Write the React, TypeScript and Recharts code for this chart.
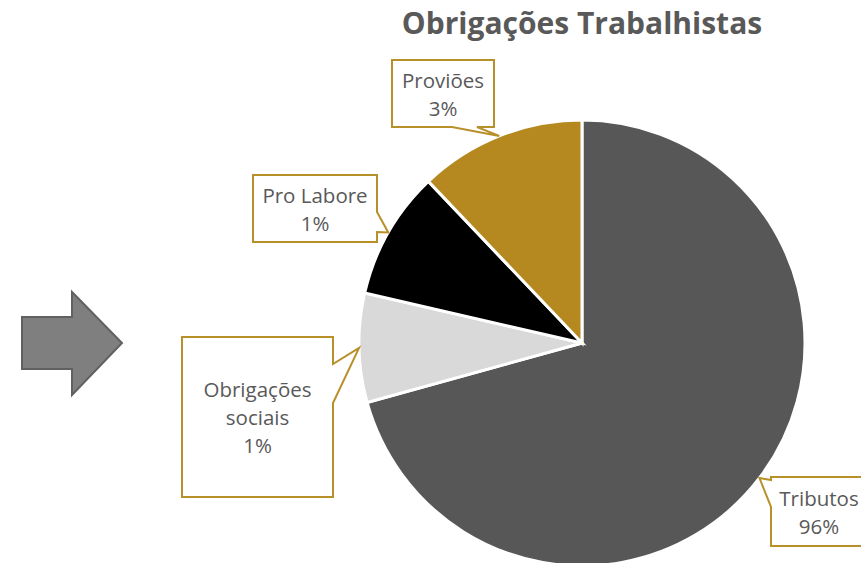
import { PieChart, Pie, Cell } from 'recharts';

// fatias (em % do círculo)
const categorias = ['Tributos', 'Obrigações sociais', 'Pro Labore', 'Proviões'];
const valores = [70.7, 7.9, 9.3, 12.1];
// textos das etiquetas, como aparecem no gráfico
const rotulos = [['Tributos', '96%'], ['Obrigações', 'sociais', '1%'], ['Pro Labore', '1%'], ['Proviões', '3%']];
const cores = ['#575757', '#d9d9d9', '#000000', '#b5891f'];

const dados = categorias.map((nome, i) => ({ nome, valor: valores[i] }));

const RAD = Math.PI / 180;
const OURO = '#b8902a';
const TEXTO = '#595959';

type Caixa = { x: number; y: number; w: number; h: number; lado: 'left' | 'right' | 'bottom'; b1: number; b2: number };

// posição das caixas de chamada
const caixas: Caixa[] = [
    { x: 771, y: 477, w: 96, h: 69, lado: 'left', b1: 480, b2: 507 },
    { x: 182, y: 337, w: 151, h: 160, lado: 'right', b1: 364, b2: 403 },
    { x: 253, y: 175, w: 124, h: 67, lado: 'right', b1: 212, b2: 232 },
    { x: 392, y: 60, w: 102, h: 67, lado: 'bottom', b1: 452, b2: 477 },
];

const renderChamada = (props: any) => {
    const { cx, cy, midAngle, outerRadius, index } = props;
    const tx = cx + outerRadius * Math.cos(-midAngle * RAD);
    const ty = cy + outerRadius * Math.sin(-midAngle * RAD);
    const c = caixas[index];
    const { x, y, w, h } = c;
    let d = '';
    if (c.lado === 'right') {
        d = `M${x},${y} H${x + w} V${c.b1} L${tx},${ty} L${x + w},${c.b2} V${y + h} H${x} Z`;
    } else if (c.lado === 'left') {
        d = `M${x},${y} H${x + w} V${y + h} H${x} V${c.b2} L${tx},${ty} L${x},${c.b1} Z`;
    } else {
        d = `M${x},${y} H${x + w} V${y + h} H${c.b2} L${tx},${ty} L${c.b1},${y + h} H${x} Z`;
    }
    const linhas = rotulos[index];
    const passo = 28;
    const meio = y + h / 2;
    const y0 = meio - ((linhas.length - 1) * passo) / 2;
    return (
        <g key={`chamada-${index}`}>
            <path d={d} fill="#fff" stroke={OURO} strokeWidth={2} />
            {linhas.map((t, j) => (
                <text
                    key={j}
                    x={x + w / 2}
                    y={y0 + j * passo}
                    textAnchor="middle"
                    dominantBaseline="central"
                    fill={TEXTO}
                    fontSize={20.5}
                    fontFamily="'Open Sans', sans-serif"
                >
                    {t}
                </text>
            ))}
        </g>
    );
};

export default function App() {
    return (
        <div style={{ position: 'absolute', left: 0, top: 0, width: 861, height: 563, background: '#fff', overflow: 'hidden' }}>
            <svg width={861} height={563} style={{ position: 'absolute', left: 0, top: 0 }}>
                <polygon
                    points="22,317 72,317 72,292 122,343 72,395 72,369 22,369"
                    fill="#7f7f7f"
                    stroke="#616161"
                    strokeWidth={2}
                />
                <text
                    x={582}
                    y={34}
                    textAnchor="middle"
                    fill={TEXTO}
                    fontSize={30}
                    fontWeight="bold"
                    fontFamily="'Open Sans', sans-serif"
                >
                    Obrigações Trabalhistas
                </text>
            </svg>
            <div style={{ position: 'absolute', left: 0, top: 0 }}>
                <PieChart width={861} height={563} margin={{ top: 0, right: 0, bottom: 0, left: 0 }}>
                    <Pie
                        data={dados}
                        dataKey="valor"
                        nameKey="nome"
                        cx={582}
                        cy={343}
                        outerRadius={223}
                        startAngle={90}
                        endAngle={-270}
                        stroke="#fff"
                        strokeWidth={3}
                        label={renderChamada}
                        labelLine={false}
                        isAnimationActive={false}
                    >
                        {dados.map((d, i) => (
                            <Cell key={d.nome} fill={cores[i]} />
                        ))}
                    </Pie>
                </PieChart>
            </div>
        </div>
    );
}
